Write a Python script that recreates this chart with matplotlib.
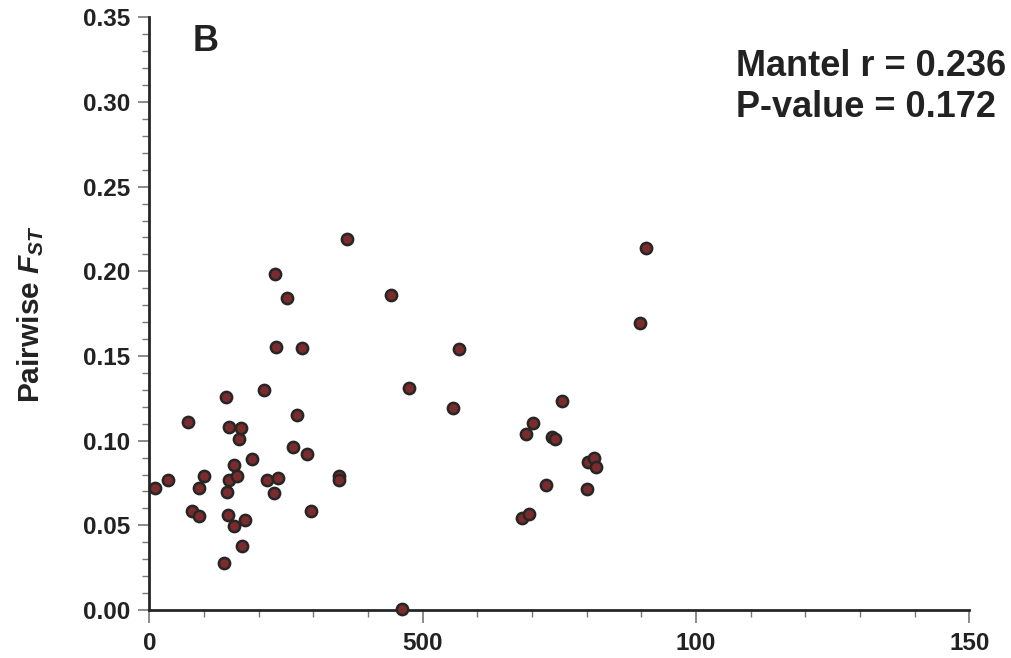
import matplotlib
matplotlib.use("Agg")
import matplotlib.pyplot as plt
from matplotlib.ticker import MultipleLocator, FixedLocator

plt.rcParams['font.family'] = ['Liberation Sans', 'DejaVu Sans']
plt.rcParams['mathtext.fontset'] = 'custom'
plt.rcParams['mathtext.it'] = 'Liberation Sans:italic:bold'
plt.rcParams['mathtext.rm'] = 'Liberation Sans:bold'
plt.rcParams['mathtext.bf'] = 'Liberation Sans:bold'

# Geographic distance (x) vs pairwise FST (y)
distance = [11.0, 35.1, 69.9, 77.2, 91.3, 90.9, 99.7, 136.1, 139.7, 142.1,
            143.4, 146.7, 146.3, 155.5, 155.8, 159.9, 163.2, 168.1, 169.2, 175.6,
            187.9, 209.3, 216.2, 227.2, 229.4, 231.8, 235.4, 251.9, 263.2, 269.6,
            279.3, 288.1, 295.4, 347.0, 347.0, 361.6, 442.1, 461.7, 474.4, 555.0,
            567.1, 681.2, 695.1, 689.0, 701.3, 725.6, 737.1, 742.1, 754.9, 800.6,
            803.4, 813.5, 817.6, 897.6, 909.1]
fst = [0.0719, 0.0767, 0.1113, 0.0585, 0.0558, 0.0719, 0.0790, 0.0275, 0.1256, 0.0695,
       0.0563, 0.1078, 0.0767, 0.0855, 0.0494, 0.0790, 0.1009, 0.1076, 0.0376, 0.0532,
       0.0893, 0.1302, 0.0765, 0.0688, 0.1983, 0.1555, 0.0778, 0.1841, 0.0960, 0.1154,
       0.1548, 0.0920, 0.0586, 0.0793, 0.0768, 0.2190, 0.1859, 0.0004, 0.1310, 0.1191,
       0.1542, 0.0545, 0.0565, 0.1038, 0.1103, 0.0738, 0.1024, 0.1012, 0.1233, 0.0714,
       0.0876, 0.0898, 0.0843, 0.1697, 0.2138]

x_ticks = [0, 500, 1000, 1500]
x_tick_labels = ["0", "500", "100", "150"]
y_ticks = [0.00, 0.05, 0.10, 0.15, 0.20, 0.25, 0.30, 0.35]
y_tick_labels = ["0.00", "0.05", "0.10", "0.15", "0.20", "0.25", "0.30", "0.35"]

W, H = 1012, 658
fig = plt.figure(figsize=(W / 100, H / 100), dpi=100)
ax = fig.add_axes([149.3 / W, 1 - 610 / H, (969.3 - 149.3) / W, (610 - 17.3) / H])

ax.scatter(distance, fst, s=66, facecolor='#7b2b2b', edgecolor='#262626',
           linewidths=1.8, zorder=3, clip_on=False)

ax.set_xlim(0, 1500)
ax.set_ylim(0, 0.35)

for side in ['top', 'right']:
    ax.spines[side].set_visible(False)
for side in ['left', 'bottom']:
    ax.spines[side].set_color('#262626')
    ax.spines[side].set_linewidth(2.0)

ax.xaxis.set_major_locator(FixedLocator(x_ticks))
ax.set_xticklabels(x_tick_labels)
ax.xaxis.set_minor_locator(MultipleLocator(100))
ax.yaxis.set_major_locator(FixedLocator(y_ticks))
ax.set_yticklabels(y_tick_labels)
ax.yaxis.set_minor_locator(MultipleLocator(0.01))

ax.tick_params(axis='both', which='major', direction='out', width=1.2,
               color='#777777', labelsize=17.5, labelcolor='#222222')
ax.tick_params(axis='x', which='major', length=9, pad=7)
ax.tick_params(axis='y', which='major', length=8, pad=6)
ax.tick_params(axis='both', which='minor', direction='out', length=5, width=1.0,
               color='#777777')
for lab in ax.get_xticklabels() + ax.get_yticklabels():
    lab.set_fontweight('bold')

ax.set_ylabel(r'Pairwise $F_{ST}$', fontsize=21.5, fontweight='bold', color='#222222',
              labelpad=26)

fig.text(193 / W, 1 - 51 / H, 'B', fontsize=26, fontweight='bold', color='#222222',
         ha='left', va='baseline')
fig.text(736 / W, 1 - 76 / H, 'Mantel r = 0.236', fontsize=26, fontweight='bold',
         color='#222222', ha='left', va='baseline')
fig.text(736 / W, 1 - 117 / H, 'P-value = 0.172', fontsize=26, fontweight='bold',
         color='#222222', ha='left', va='baseline')

fig.savefig('out.png', dpi=100)
